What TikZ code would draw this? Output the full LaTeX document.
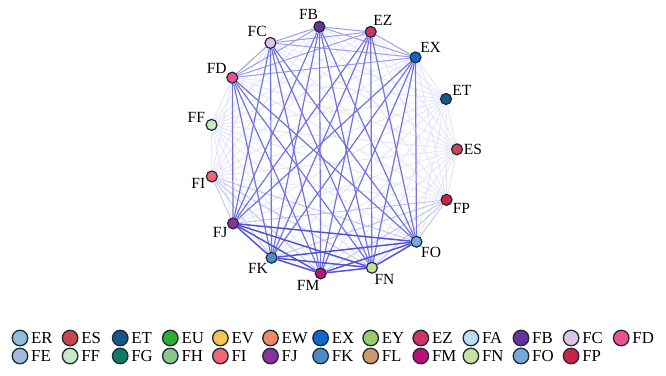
\documentclass[tikz,border=0pt]{standalone}
\usepackage{fontspec}
\setmainfont{Liberation Serif}
\usetikzlibrary{backgrounds}
\definecolor{edgeblue}{RGB}{60,60,215}
\definecolor{nodeborder}{HTML}{1E2A36}
\definecolor{cER}{HTML}{8FBFDC}
\definecolor{cES}{HTML}{C8464E}
\definecolor{cET}{HTML}{17568A}
\definecolor{cEU}{HTML}{33AA33}
\definecolor{cEV}{HTML}{F8C450}
\definecolor{cEW}{HTML}{EE8866}
\definecolor{cEX}{HTML}{1166CC}
\definecolor{cEY}{HTML}{99CC66}
\definecolor{cEZ}{HTML}{CC3366}
\definecolor{cFA}{HTML}{BBDDF5}
\definecolor{cFB}{HTML}{663399}
\definecolor{cFC}{HTML}{DDC4E4}
\definecolor{cFD}{HTML}{EE4F8F}
\definecolor{cFE}{HTML}{A4BCDC}
\definecolor{cFF}{HTML}{C9E6C5}
\definecolor{cFG}{HTML}{117766}
\definecolor{cFH}{HTML}{88C888}
\definecolor{cFI}{HTML}{EE6677}
\definecolor{cFJ}{HTML}{883399}
\definecolor{cFK}{HTML}{4B8BC4}
\definecolor{cFL}{HTML}{CC9966}
\definecolor{cFM}{HTML}{BB1177}
\definecolor{cFN}{HTML}{C8E0A0}
\definecolor{cFO}{HTML}{77A8DD}
\definecolor{cFP}{HTML}{CC2244}
\begin{document}
\begin{tikzpicture}[x=1pt,y=1pt,
  gnode/.style={circle,draw=nodeborder,line width=1.2pt,minimum size=11pt,inner sep=0pt},
  glabel/.style={font=\fontsize{15.5}{17}\selectfont,inner sep=0.5pt,label distance=0pt},
  lnode/.style={circle,draw=nodeborder,line width=1.3pt,minimum size=15.5pt,inner sep=0pt},
  ltext/.style={anchor=west,inner sep=0pt,font=\fontsize{16.8}{18}\selectfont},
  eA/.style={draw=edgeblue!15!white,line width=0.8pt},
  eB/.style={draw=edgeblue!32!white,line width=0.9pt},
  eC/.style={draw=edgeblue!50!white,line width=1pt},
  eD/.style={draw=edgeblue!72!white,line width=1.2pt},
  eE/.style={draw=edgeblue!88!white,line width=1.5pt}]
\useasboundingbox (0,0) rectangle (666,-375);
% graph nodes
\foreach \n/\a in {ES/0,ET/24,EX/48,EZ/72,FB/96,FC/120,FD/144,FF/168,FI/192,FJ/216,FK/240,FM/264,FN/288,FO/312,FP/336}
  \node[gnode,fill=c\n,label={[glabel]\a:\n}] (\n) at ([shift={(\a+0.3:124)}]333,-150) {};
% edges
\begin{scope}[on background layer]
  % faint edges of weakly linked nodes
  \foreach \u in {ES,ET,FF}
    \foreach \v in {EX,EZ,FB,FC,FD,FJ,FK,FM,FN,FO}
      \draw[eA] (\u) -- (\v);
  \foreach \u/\v in {ES/ET,ES/FF,ES/FI,ES/FP,ET/FF,ET/FI,ET/FP,FF/FI,FF/FP,FI/FP}
    \draw[eA] (\u) -- (\v);
  \foreach \u in {FI,FP}
    \foreach \v in {EX,EZ,FB,FC,FD}
      \draw[eA] (\u) -- (\v);
  \foreach \u in {FI,FP}
    \foreach \v in {FJ,FK,FM,FN,FO}
      \draw[eB] (\u) -- (\v);
  % upper group
  \foreach \u/\v in {EX/EZ,EX/FB,EX/FC,EX/FD,EZ/FB,EZ/FC,EZ/FD,FB/FC,FB/FD,FC/FD}
    \draw[eC] (\u) -- (\v);
  % upper to lower group
  \foreach \u in {EX,EZ,FB,FC,FD}
    \foreach \v in {FJ,FK,FM,FN,FO}
      \draw[eD] (\u) -- (\v);
  % lower group
  \foreach \u/\v in {FJ/FK,FJ/FM,FJ/FN,FJ/FO,FK/FM,FK/FN,FK/FO,FM/FN,FM/FO,FN/FO}
    \draw[eE] (\u) -- (\v);
\end{scope}
% legend
\foreach \n [count=\i from 0] in {ER,ES,ET,EU,EV,EW,EX,EY,EZ,FA,FB,FC,FD}{
  \node[lnode,fill=c\n] (L\n) at (20+50.1*\i,-338) {};
  \node[ltext] (T\n) at ([xshift=11pt]L\n.center) {\n};
}
\foreach \n [count=\i from 0] in {FE,FF,FG,FH,FI,FJ,FK,FL,FM,FN,FO,FP}{
  \node[lnode,fill=c\n] (L\n) at (20+50.1*\i,-356) {};
  \node[ltext] (T\n) at ([xshift=11pt]L\n.center) {\n};
}
\end{tikzpicture}
\end{document}
